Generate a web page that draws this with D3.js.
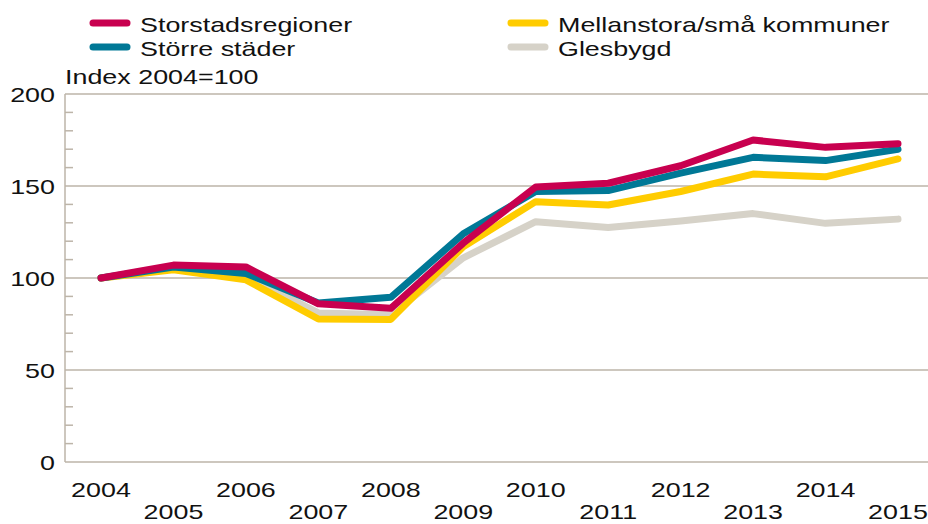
<!doctype html>
<html>
<head>
<script type='text/javascript' src='https://d3js.org/d3.v7.min.js'></script>
<style>
body { margin: 0; background: #fff; }
text { font-family: 'Liberation Sans', Arial, sans-serif; fill: #111; }
</style>
</head>
<body>
<script>
var width = 928, height = 524;

// data
var years = [2004, 2005, 2006, 2007, 2008, 2009, 2010, 2011, 2012, 2013, 2014, 2015];
var storstad = [100, 107, 106, 86, 83.5, 119, 149.5, 151.5, 161, 175, 171, 173];
var storreStader = [100, 106, 102.5, 86.4, 89.5, 124, 147, 147.5, 157, 165.6, 163.8, 170];
var mellanstora = [100, 104.5, 99, 77.7, 77.5, 117, 141.5, 139.7, 147, 156.5, 155, 164.7];
var glesbygd = [100, 105, 101, 81, 80, 111, 130.6, 127.5, 131, 135, 129.7, 132];
var yTicks = [0, 50, 100, 150, 200];
var seriesNames = ['Storstadsregioner', 'Större städer', 'Mellanstora/små kommuner', 'Glesbygd'];
var seriesColors = ['#c8004f', '#007896', '#ffcc00', '#d6d2c8'];

var series = [
  {name: seriesNames[3], color: seriesColors[3], values: glesbygd},
  {name: seriesNames[2], color: seriesColors[2], values: mellanstora},
  {name: seriesNames[1], color: seriesColors[1], values: storreStader},
  {name: seriesNames[0], color: seriesColors[0], values: storstad}
];

var svg = d3.select('body').append('svg').attr('width', width).attr('height', height);

var x = d3.scaleLinear().domain([2004, 2015]).range([101, 898]);
var y = d3.scaleLinear().domain([0, 200]).range([462, 94]);
var axisX = 65;
var gridColor = '#bdb5a9';
var stretch = 'scale(1.28,1)';

function label(txt, px, py, anchor) {
  svg.append('text')
    .attr('transform', 'translate(' + px + ',' + py + ') ' + stretch)
    .attr('text-anchor', anchor || 'start')
    .attr('font-size', 21)
    .text(txt);
}

// gridlines
svg.append('g').selectAll('line').data(yTicks).join('line')
  .attr('x1', axisX).attr('x2', width)
  .attr('y1', function(d) { return y(d); }).attr('y2', function(d) { return y(d); })
  .attr('stroke', gridColor).attr('stroke-width', 1.5);

// minor ticks on y axis
var minor = d3.range(0, 201, 10).filter(function(d) { return d % 50 !== 0; });
svg.append('g').selectAll('line').data(minor).join('line')
  .attr('x1', axisX).attr('x2', axisX + 8)
  .attr('y1', function(d) { return y(d); }).attr('y2', function(d) { return y(d); })
  .attr('stroke', gridColor).attr('stroke-width', 1.5);

// y axis line
svg.append('line').attr('x1', axisX).attr('x2', axisX)
  .attr('y1', y(200)).attr('y2', y(0))
  .attr('stroke', gridColor).attr('stroke-width', 1.5);

// y tick labels
yTicks.forEach(function(t) { label(t, 55, y(t) + 8, 'end'); });

// x tick labels, staggered in two rows
years.forEach(function(yr, i) {
  label(yr, x(yr), i % 2 === 0 ? 497 : 519, 'middle');
});

label('Index 2004=100', 65, 84);

// lines
var line = d3.line()
  .x(function(d, i) { return x(years[i]); })
  .y(function(d) { return y(d); });

svg.append('g').selectAll('path').data(series).join('path')
  .attr('d', function(d) { return line(d.values); })
  .attr('fill', 'none')
  .attr('stroke', function(d) { return d.color; })
  .attr('stroke-width', 7)
  .attr('stroke-linejoin', 'round')
  .attr('stroke-linecap', 'round');

// legend
var legendItems = [
  {name: seriesNames[0], color: seriesColors[0], lx: 90, ly: 23},
  {name: seriesNames[1], color: seriesColors[1], lx: 90, ly: 47},
  {name: seriesNames[2], color: seriesColors[2], lx: 508, ly: 23},
  {name: seriesNames[3], color: seriesColors[3], lx: 508, ly: 47}
];
legendItems.forEach(function(d) {
  svg.append('line')
    .attr('x1', d.lx + 3).attr('x2', d.lx + 37)
    .attr('y1', d.ly).attr('y2', d.ly)
    .attr('stroke', d.color).attr('stroke-width', 7)
    .attr('stroke-linecap', 'round');
  label(d.name, d.lx + 50, d.ly + 9);
});
</script>
</body>
</html>
